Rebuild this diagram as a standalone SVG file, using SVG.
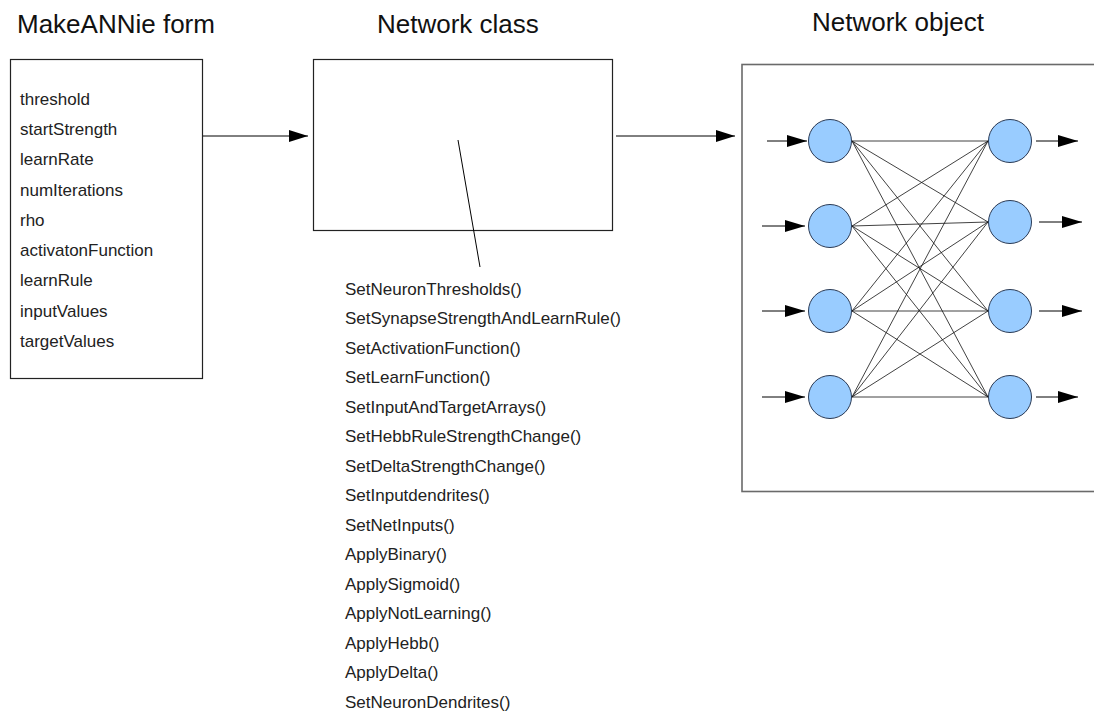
<svg xmlns="http://www.w3.org/2000/svg" width="1094" height="724" viewBox="0 0 1094 724">
  <style>
    .title { font-family: "Liberation Sans", Arial, sans-serif; font-size: 26px; fill: #111; }
    .item { font-family: "Liberation Sans", Arial, sans-serif; font-size: 17px; fill: #222; }
    .box { fill: #fff; stroke: #222; stroke-width: 1.2; }
    .objbox { fill: #fff; stroke: #6a6a6a; stroke-width: 1.6; }
    .wire { stroke: #000; stroke-width: 1; fill: none; }
    .syn { stroke: #111; stroke-width: 0.8; fill: none; }
    .neuron { fill: #99ccff; stroke: #2a3a55; stroke-width: 1; }
  </style>
  <defs>
    <marker id="head" viewBox="0 0 19 12" refX="19" refY="6" markerWidth="19" markerHeight="12" markerUnits="userSpaceOnUse" orient="auto">
      <path d="M0,0 L19,6 L0,12 Z" fill="#000"/>
    </marker>
    <marker id="headSmall" viewBox="0 0 20 12" refX="20" refY="6" markerWidth="20" markerHeight="12" markerUnits="userSpaceOnUse" orient="auto">
      <path d="M0,0 L20,6 L0,12 Z" fill="#000"/>
    </marker>
  </defs>

  <rect width="1094" height="724" fill="#fff"/>

  <!-- MakeANNie form -->
  <g id="form">
    <text class="title" x="17" y="33">MakeANNie form</text>
    <rect class="box" x="10.5" y="59.5" width="192" height="319"/>
    <text class="item" x="20" y="105">threshold</text>
    <text class="item" x="20" y="135">startStrength</text>
    <text class="item" x="20" y="165">learnRate</text>
    <text class="item" x="20" y="196">numIterations</text>
    <text class="item" x="20" y="226">rho</text>
    <text class="item" x="20" y="256">activatonFunction</text>
    <text class="item" x="20" y="286">learnRule</text>
    <text class="item" x="20" y="317">inputValues</text>
    <text class="item" x="20" y="347">targetValues</text>
  </g>

  <!-- Network class -->
  <g id="network-class">
    <text class="title" x="377" y="33">Network class</text>
    <rect class="box" x="313.5" y="59.5" width="299" height="171"/>
    <line class="wire" x1="458" y1="140" x2="480" y2="267"/>
    <g id="methods">
      <text class="item" x="345" y="295">SetNeuronThresholds()</text>
      <text class="item" x="345" y="324">SetSynapseStrengthAndLearnRule()</text>
      <text class="item" x="345" y="354">SetActivationFunction()</text>
      <text class="item" x="345" y="383">SetLearnFunction()</text>
      <text class="item" x="345" y="413">SetInputAndTargetArrays()</text>
      <text class="item" x="345" y="442">SetHebbRuleStrengthChange()</text>
      <text class="item" x="345" y="472">SetDeltaStrengthChange()</text>
      <text class="item" x="345" y="501">SetInputdendrites()</text>
      <text class="item" x="345" y="531">SetNetInputs()</text>
      <text class="item" x="345" y="560">ApplyBinary()</text>
      <text class="item" x="345" y="590">ApplySigmoid()</text>
      <text class="item" x="345" y="619">ApplyNotLearning()</text>
      <text class="item" x="345" y="649">ApplyHebb()</text>
      <text class="item" x="345" y="678">ApplyDelta()</text>
      <text class="item" x="345" y="708">SetNeuronDendrites()</text>
    </g>
  </g>

  <!-- Network object -->
  <g id="network-object">
    <text class="title" x="812" y="31">Network object</text>
    <rect class="objbox" x="742" y="64.5" width="360" height="427"/>
  </g>

  <!-- connectors between the three stages -->
  <g id="connectors">
    <line class="wire" x1="203" y1="136" x2="308" y2="136" marker-end="url(#head)"/>
    <line class="wire" x1="616" y1="136" x2="735" y2="136" marker-end="url(#head)"/>
  </g>

  <!-- synapses: every input neuron to every output neuron -->
  <g id="synapses">
    <path class="syn" d="M852,141 L988,141 M852,141 L988,222 M852,141 L988,311 M852,141 L988,397
                         M852,226 L988,141 M852,226 L988,222 M852,226 L988,311 M852,226 L988,397
                         M852,311 L988,141 M852,311 L988,222 M852,311 L988,311 M852,311 L988,397
                         M852,397 L988,141 M852,397 L988,222 M852,397 L988,311 M852,397 L988,397"/>
  </g>

  <!-- input and output arrows -->
  <g id="io-arrows">
    <line class="wire" x1="767" y1="141" x2="807" y2="141" marker-end="url(#headSmall)"/>
    <line class="wire" x1="762" y1="226" x2="805" y2="226" marker-end="url(#headSmall)"/>
    <line class="wire" x1="762" y1="311" x2="805" y2="311" marker-end="url(#headSmall)"/>
    <line class="wire" x1="762" y1="397" x2="805" y2="397" marker-end="url(#headSmall)"/>
    <line class="wire" x1="1036" y1="141" x2="1078" y2="141" marker-end="url(#headSmall)"/>
    <line class="wire" x1="1039" y1="222" x2="1082" y2="222" marker-end="url(#headSmall)"/>
    <line class="wire" x1="1039" y1="311" x2="1082" y2="311" marker-end="url(#headSmall)"/>
    <line class="wire" x1="1036" y1="397" x2="1078" y2="397" marker-end="url(#headSmall)"/>
  </g>

  <!-- input layer -->
  <g id="in1"><circle class="neuron" cx="830" cy="141" r="21.5"/></g>
  <g id="in2"><circle class="neuron" cx="830" cy="226" r="21.5"/></g>
  <g id="in3"><circle class="neuron" cx="830" cy="311" r="21.5"/></g>
  <g id="in4"><circle class="neuron" cx="830" cy="397" r="21.5"/></g>

  <!-- output layer -->
  <g id="out1"><circle class="neuron" cx="1010" cy="141" r="21.5"/></g>
  <g id="out2"><circle class="neuron" cx="1010" cy="222" r="21.5"/></g>
  <g id="out3"><circle class="neuron" cx="1010" cy="311" r="21.5"/></g>
  <g id="out4"><circle class="neuron" cx="1010" cy="397" r="21.5"/></g>
</svg>
